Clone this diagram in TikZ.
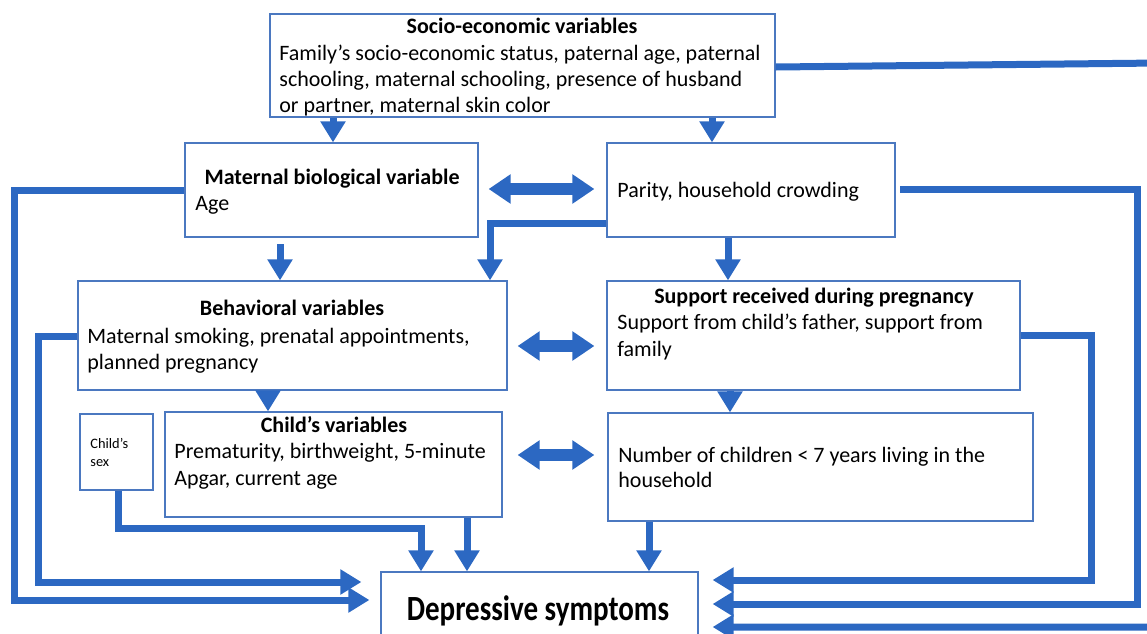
\documentclass[tikz,border=0pt]{standalone}
\usepackage{fontspec}
\setmainfont{Carlito}
\usetikzlibrary{arrows.meta,fit,calc}
\definecolor{arrc}{HTML}{2C68C2}
\definecolor{boxc}{HTML}{4B78C0}
\tikzset{
  box/.style={draw=boxc, line width=0.6pt, inner sep=0pt, fill=white},
  conn/.style={draw=arrc, line width=3.5pt, line join=miter, -{Triangle[width=12pt,length=10.5pt]}},
  dbl/.style={draw=arrc, line width=6pt, {Triangle[width=14pt,length=11pt]}-{Triangle[width=14pt,length=11pt]}},
  tx/.style={anchor=base west, inner sep=0pt, font=\fontsize{11pt}{13pt}\selectfont},
  tt/.style={anchor=base, inner sep=0pt, font=\fontsize{11pt}{13pt}\selectfont\bfseries},
  sm/.style={anchor=base west, inner sep=0pt, font=\fontsize{7.2pt}{8pt}\selectfont},
}
\begin{document}
\begin{tikzpicture}[x=0.5pt,y=-0.5pt]
\useasboundingbox (0,0) rectangle (1147,633);
\clip (0,0) rectangle (1147,633);
% boxes
\node[box, fit={(270,14) (775,117)}] (soc) {};
\node[box, fit={(185,143) (478,237)}] (mat) {};
\node[box, fit={(607,143) (895,237)}] (par) {};
\node[box, fit={(78,281) (507,390)}] (beh) {};
\node[box, fit={(607,281) (1020,390)}] (sup) {};
\node[box, fit={(80,414) (153,490)}] (sex) {};
\node[box, fit={(165,412) (502,517)}] (chi) {};
\node[box, fit={(608,413) (1033,521)}] (num) {};
\node[box, fit={(381,572) (698,645)}] (dep) {};
% texts
\node[tt] (socT) at (522,33) {Socio-economic variables};
\node[tx] (soc1) at (279,60) {Family’s socio-economic status, paternal age, paternal};
\node[tx] (soc2) at (279,86) {schooling, maternal schooling, presence of husband};
\node[tx] (soc3) at (279,112) {or partner, maternal skin color};
\node[tt] (matT) at (332,184) {Maternal biological variable};
\node[tx] (mat1) at (195,210) {Age};
\node[tx] (par1) at (617,197) {Parity, household crowding};
\node[tt] (behT) at (292,315) {Behavioral variables};
\node[tx] (beh1) at (87,343) {Maternal smoking, prenatal appointments,};
\node[tx] (beh2) at (87,369) {planned pregnancy};
\node[tt] (supT) at (814,303) {Support received during pregnancy};
\node[tx] (sup1) at (617,329) {Support from child’s father, support from};
\node[tx] (sup2) at (617,356) {family};
\node[tt] (chiT) at (334,432) {Child’s variables};
\node[tx] (chi1) at (174,458) {Prematurity, birthweight, 5-minute};
\node[tx] (chi2) at (174,485) {Apgar, current age};
\node[tx] (num1) at (618,462) {Number of children < 7 years living in the};
\node[tx] (num2) at (618,487) {household};
\node[sm] (sex1) at (90,448) {Child’s};
\node[sm] (sex2) at (90,466) {sex};
\node[anchor=base, inner sep=0pt, font=\fontsize{14.5pt}{16pt}\selectfont\bfseries] (depT) at (538,620) {\scalebox{1}[1.22]{Depressive symptoms}};
% vertical short arrows
\draw[conn] (333,0 |- soc.south) -- (333,0 |- mat.north);
\draw[conn] (712,0 |- soc.south) -- (712,0 |- par.north);
\draw[conn] (280,244) -- (280,0 |- beh.north);
\draw[conn] (728,0 |- par.south) -- (728,0 |- sup.north);
\draw[conn] (268,0 |- beh.south) -- (268,0 |- chi.north);
\draw[conn] (730,0 |- sup.south) -- (730,0 |- num.north);
\draw[conn] (467,0 |- chi.south) -- (467,0 |- dep.north);
\draw[conn] (649,0 |- num.south) -- (649,0 |- dep.north);
% elbow arrows
\draw[conn] (par.west |- 0,223) -- (490,223) -- (490,0 |- beh.north);
\draw[conn] (118,0 |- sex.south) -- (118,528) -- (421,528) -- (421,0 |- dep.north);
\draw[conn] (mat.west |- 0,190) -- (14,190) -- (14,600) -- ([xshift=-5.5pt]dep.west |- 0,600);
\draw[conn] (beh.west |- 0,336) -- (38,336) -- (38,582) -- ([xshift=-9.5pt]dep.west |- 0,582);
\draw[conn] (900,189) -- (1137,189) -- (1137,604) -- ([xshift=7pt]dep.east |- 0,604);
\draw[conn] (sup.east |- 0,335) -- (1091,335) -- (1091,580) -- ([xshift=7pt]dep.east |- 0,580);
\draw[conn] (soc.east |- 0,67) -- (1160,63) -- (1160,627) -- ([xshift=7pt]dep.east |- 0,627);
% double arrows
\draw[dbl] ([xshift=5pt]mat.east |- 0,189) -- ([xshift=-6pt]par.west |- 0,189);
\draw[dbl] ([xshift=5pt]beh.east |- 0,346) -- ([xshift=-6pt]sup.west |- 0,346);
\draw[dbl] ([xshift=7.5pt]chi.east |- 0,455) -- ([xshift=-6.5pt]num.west |- 0,455);
\end{tikzpicture}
\end{document}
